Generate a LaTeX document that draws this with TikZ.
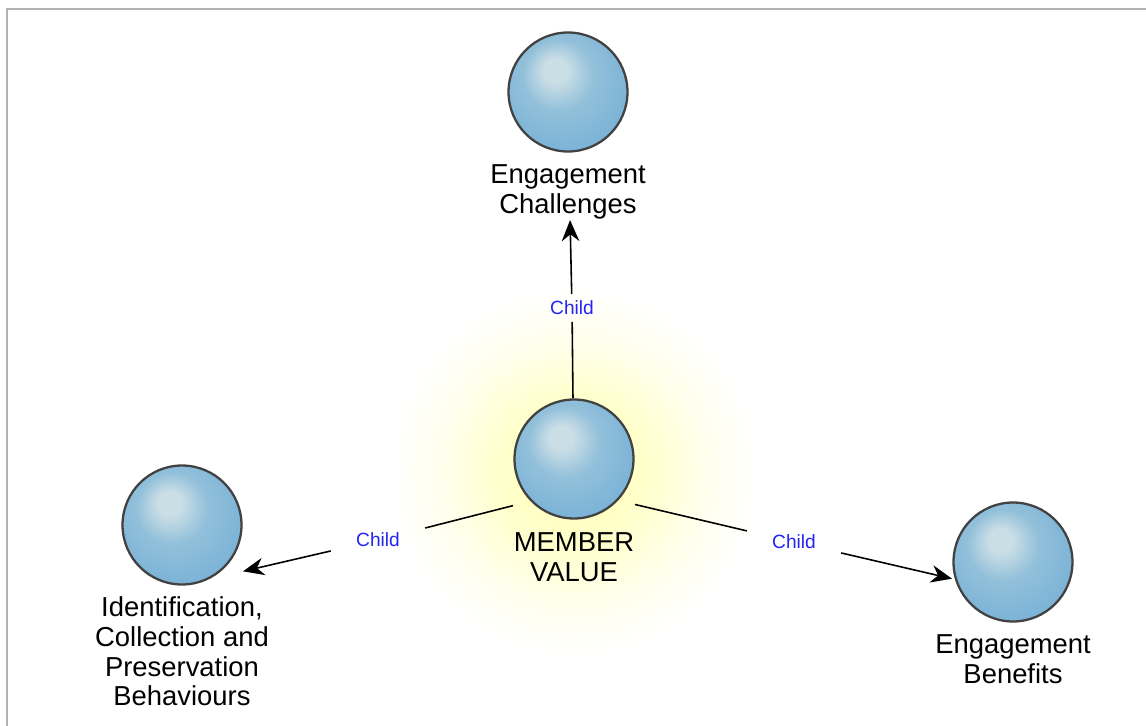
\documentclass[tikz,border=0pt]{standalone}
\usepackage{fontspec}
\setmainfont{Liberation Sans}
\usepackage{tikz}
\usetikzlibrary{arrows.meta,positioning,fit}

\definecolor{orbhi}{RGB}{202,222,230}
\definecolor{orbmid}{RGB}{146,192,218}
\definecolor{orbbase}{RGB}{124,179,215}
\definecolor{orbedge}{RGB}{104,163,206}
\definecolor{orbline}{RGB}{66,66,66}
\definecolor{childblue}{RGB}{35,35,245}
\definecolor{framegray}{RGB}{178,178,178}

\pgfdeclareradialshading{orb}{\pgfpoint{-6bp}{10bp}}{color(0bp)=(orbhi); color(5bp)=(orbhi); color(15bp)=(orbmid); color(29bp)=(orbbase); color(36bp)=(orbedge); color(50bp)=(orbedge)}
\pgfdeclareradialshading{halo}{\pgfpoint{0bp}{0bp}}{color(0bp)=(yellow!30); color(10bp)=(yellow!20); color(18bp)=(yellow!7); color(25bp)=(white); color(50bp)=(white)}

\begin{document}
\begin{tikzpicture}[x=0.02cm,y=-0.02cm,
		orb/.style={circle,minimum size=2.38cm,inner sep=0pt,draw=orbline,line width=1.3pt,shading=orb},
		caption/.style={align=center,inner sep=0pt,font=\fontsize{15.6}{17}\selectfont},
		childlbl/.style={text=childblue,font=\fontsize{10.9}{12}\selectfont,inner xsep=0.5cm,inner ysep=0.13cm},
		link/.style={line width=0.9pt,black},
		linkarrow/.style={link,-{Stealth[length=12pt,width=10pt]}}]
	
	\useasboundingbox (0,0) rectangle (1146,726);
	\fill[white] (0,0) rectangle (1146,726);
	
	% glow behind the central node
	\shade[shading=halo] (574,472) circle[radius=3.7cm];
	
	\draw[framegray,line width=1.1pt] (7,726) -- (7,9) -- (1146,9);
	
	% spheres and their captions
	\node[orb] (mv) at (574,459) {};
	\node[caption,below=0.25cm of mv] (mvtext) {MEMBER\\VALUE};
	
	\node[orb] (ec) at (568,92) {};
	\node[caption,below=0.24cm of ec] (ectext) {Engagement\\Challenges};
	
	\node[orb] (icp) at (182,525) {};
	\node[caption,below=0.21cm of icp] (icptext) {Identification,\\Collection and\\Preservation\\Behaviours};
	
	\node[orb] (eb) at (1013,562) {};
	\node[caption,below=0.24cm of eb] (ebtext) {Engagement\\Benefits};
	
	\node[fit=(mv)(mvtext.south),inner sep=0pt] (mvbox) {};
	\node[fit=(ec)(ectext.south),inner sep=0pt] (ecbox) {};
	\node[fit=(icp)(icptext.south),inner sep=0pt] (icpbox) {};
	\node[fit=(eb)(ebtext.south),inner sep=0pt] (ebbox) {};
	
	% edge labels
	\node[childlbl] (lblup) at (572,308) {Child};
	\node[childlbl] (lblleft) at (378,540) {Child};
	\node[childlbl] (lblright) at (794,542) {Child};
	
	\draw[link] (mvbox) -- (lblup);
	\draw[linkarrow] (lblup) -- (ecbox);
	\draw[link] (mvbox) -- (lblleft);
	\draw[linkarrow] (lblleft) -- (icpbox);
	\draw[link] (mvbox) -- (lblright);
	\draw[linkarrow] (lblright) -- (ebbox);
	
\end{tikzpicture}
\end{document}
